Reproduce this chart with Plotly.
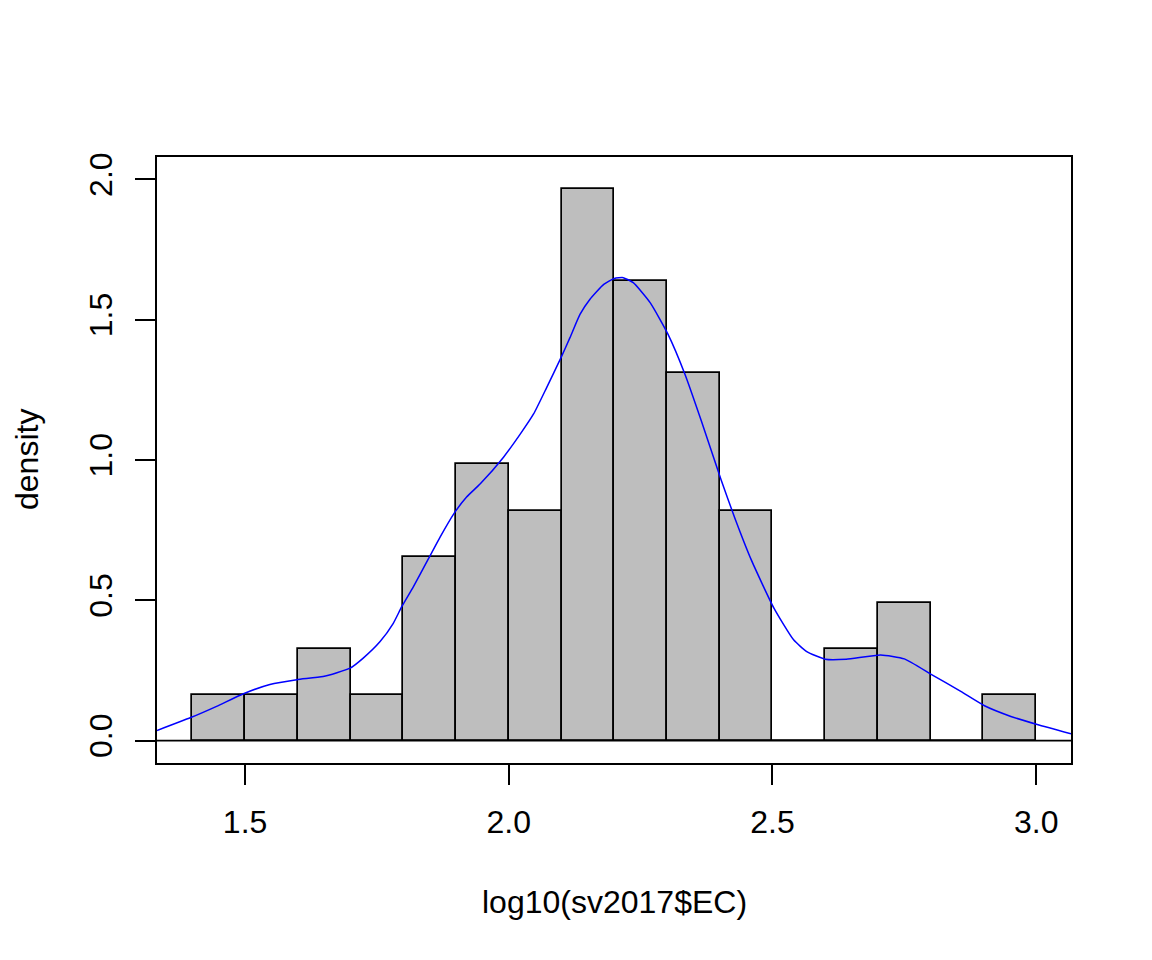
import plotly.graph_objects as go

# histogram of log10(EC), density scale (n = 61, bin width 0.1)
bin_mids = [1.45, 1.55, 1.65, 1.75, 1.85, 1.95, 2.05, 2.15, 2.25, 2.35, 2.45, 2.55, 2.65, 2.75, 2.85, 2.95]
bin_density = [0.164, 0.164, 0.328, 0.164, 0.656, 0.984, 0.820, 1.967, 1.639, 1.311, 0.820, 0.0, 0.328, 0.492, 0.0, 0.164]

# kernel density curve
dens_x = [1.333, 1.397, 1.446, 1.497, 1.547, 1.598, 1.648, 1.699, 1.724, 1.756, 1.781,
          1.797, 1.819, 1.848, 1.870, 1.896, 1.920, 1.946, 1.990, 2.022, 2.047, 2.072,
          2.099, 2.116, 2.135, 2.154, 2.180, 2.200, 2.217, 2.236, 2.268, 2.302, 2.334,
          2.365, 2.403, 2.428, 2.460, 2.503, 2.540, 2.565, 2.600, 2.640, 2.705, 2.750,
          2.800, 2.857, 2.902, 2.952, 3.002, 3.066]
dens_y = [0.036, 0.082, 0.122, 0.167, 0.200, 0.217, 0.228, 0.258, 0.294, 0.353, 0.418,
          0.477, 0.548, 0.649, 0.726, 0.809, 0.868, 0.915, 1.010, 1.093, 1.164, 1.259,
          1.365, 1.436, 1.519, 1.573, 1.626, 1.647, 1.650, 1.632, 1.561, 1.448, 1.306,
          1.140, 0.927, 0.796, 0.643, 0.471, 0.359, 0.317, 0.290, 0.290, 0.305, 0.291,
          0.237, 0.175, 0.124, 0.086, 0.057, 0.024]

x_ticks = [1.5, 2.0, 2.5, 3.0]
y_ticks = [0.0, 0.5, 1.0, 1.5, 2.0]

FONT = "Liberation Sans, Arial, sans-serif"

fig = go.Figure()
fig.add_trace(
    go.Bar(
        x=bin_mids,
        y=bin_density,
        width=0.1,
        marker=dict(color="#BEBEBE", line=dict(color="black", width=1.7)),
        hoverinfo="x+y",
    )
)
fig.add_trace(
    go.Scatter(
        x=dens_x,
        y=dens_y,
        mode="lines",
        line=dict(color="#0000FF", width=1.5, shape="spline", smoothing=0.5),
        hoverinfo="skip",
    )
)

# baseline across the whole plot
fig.add_shape(type="line", xref="paper", x0=0, x1=1, yref="y", y0=0, y1=0,
              line=dict(color="black", width=1.7), layer="above")

# the page body adds an 8px offset, so margins are trimmed to match
fig.update_layout(
    width=1152,
    height=960,
    margin=dict(l=149, r=89, t=149, b=205),
    paper_bgcolor="white",
    plot_bgcolor="white",
    showlegend=False,
    bargap=0,
    font=dict(family=FONT, size=32, color="black"),
    annotations=[
        dict(text="log10(sv2017$EC)", xref="paper", yref="paper", x=0.5, y=0,
             xanchor="center", yanchor="middle", yshift=-139, showarrow=False,
             font=dict(size=32)),
        dict(text="density", xref="paper", yref="paper", x=0, y=0.5,
             xanchor="center", yanchor="middle", xshift=-130, textangle=-90,
             showarrow=False, font=dict(size=32)),
    ],
)
fig.update_xaxes(
    range=[1.333, 3.066],
    tickvals=x_ticks,
    ticktext=[f"{v:.1f}" for v in x_ticks],
    ticks="outside",
    ticklen=20,
    tickwidth=1.7,
    tickcolor="black",
    ticklabelstandoff=10,
    showgrid=False,
    zeroline=False,
    showline=True,
    linecolor="black",
    linewidth=1.7,
    mirror=True,
)
fig.update_yaxes(
    range=[-0.08, 2.08],
    tickvals=y_ticks,
    ticktext=[f"{v:.1f}" for v in y_ticks],
    tickangle=-90,
    ticks="outside",
    ticklen=20,
    tickwidth=1.7,
    tickcolor="black",
    ticklabelstandoff=10,
    showgrid=False,
    zeroline=False,
    showline=True,
    linecolor="black",
    linewidth=1.7,
    mirror=True,
)

fig.write_html("out.html")
